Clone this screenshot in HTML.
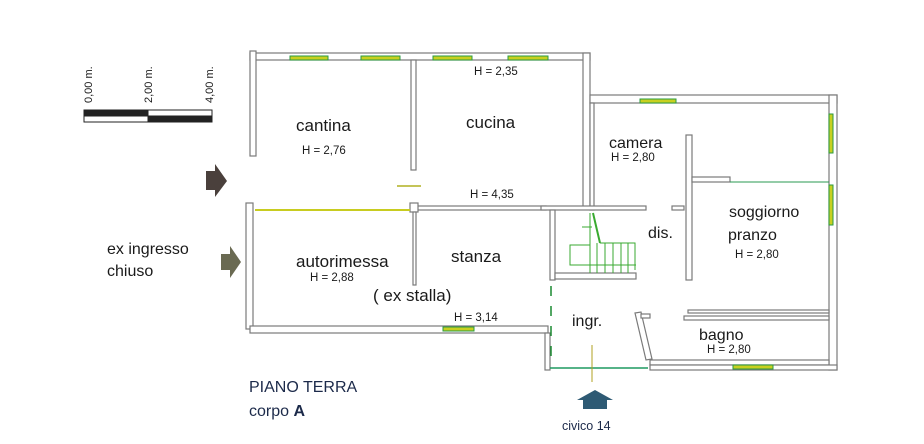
<!DOCTYPE html>
<html><head><meta charset="utf-8"><style>
html,body{margin:0;padding:0;background:#fff;}
svg{display:block;font-family:"Liberation Sans",Arial,sans-serif;}
.w{fill:#fff;stroke:#7a7a7a;stroke-width:1.2;}
.t{fill:#1a1a1a;}
</style></head><body>
<svg width="924" height="444" viewBox="0 0 924 444">
<!-- scale bar -->
<rect x="84" y="110" width="64" height="6" fill="#222" stroke="#222"/>
<rect x="84" y="116" width="64" height="6" fill="#fff" stroke="#222"/>
<rect x="148" y="110" width="64" height="6" fill="#fff" stroke="#222"/>
<rect x="148" y="116" width="64" height="6" fill="#222" stroke="#222"/>
<text transform="translate(92,103) rotate(-90)" font-size="11" class="t">0,00 m.</text>
<text transform="translate(152,103) rotate(-90)" font-size="11" class="t">2,00 m.</text>
<text transform="translate(213,103) rotate(-90)" font-size="11" class="t">4,00 m.</text>
<!-- arrows -->
<polygon points="206,171 215,171 215,164 227,181 215,197 215,190 206,190" fill="#4a403c"/>
<polygon points="221,254 230,254 230,246 241,262 230,278 230,270 221,270" fill="#6a6a52"/>
<polygon points="583,409 583,400 577,400 595,390 613,400 607,400 607,409" fill="#2e5a74"/>
<!-- walls -->
<rect class="w" x="250" y="53" width="340" height="7"/>
<rect class="w" x="250" y="51" width="6" height="105"/>
<rect class="w" x="411" y="60" width="5" height="110"/>
<rect class="w" x="583" y="53" width="7" height="155"/>
<rect class="w" x="590" y="95" width="247" height="8"/>
<rect class="w" x="829" y="95" width="8" height="275"/>
<rect class="w" x="590" y="103" width="4" height="107"/>
<rect class="w" x="416" y="206" width="130" height="4"/>
<rect class="w" x="410" y="203" width="8" height="9"/>
<line x1="255" y1="210" x2="410" y2="210" stroke="#c8cc20" stroke-width="2"/>
<rect class="w" x="246" y="203" width="7" height="126"/>
<rect class="w" x="413" y="212" width="3" height="73"/>
<rect class="w" x="250" y="326" width="298" height="7"/>
<rect class="w" x="541" y="206" width="105" height="4"/>
<rect class="w" x="672" y="206" width="12" height="4"/>
<rect class="w" x="550" y="210" width="5" height="70"/>
<rect class="w" x="555" y="273" width="81" height="6"/>
<rect class="w" x="686" y="135" width="6" height="145"/>
<rect class="w" x="692" y="177" width="38" height="5"/>
<line x1="730" y1="182" x2="829" y2="182" stroke="#2a9a50" stroke-width="1"/>
<rect class="w" x="688" y="310" width="141" height="3"/>
<rect class="w" x="684" y="316" width="145" height="4"/>
<polygon class="w" points="635,313 641,312 652,359 646,360"/>
<rect class="w" x="641" y="314" width="9" height="4"/>
<rect class="w" x="650" y="360" width="179" height="5"/>
<rect class="w" x="545" y="333" width="5" height="37"/>
<line x1="550" y1="368" x2="648" y2="368" stroke="#1f9a60" stroke-width="1.5"/>
<rect class="w" x="650" y="365" width="187" height="5"/>
<line x1="551" y1="286" x2="551" y2="364" stroke="#1a8a30" stroke-width="1.5" stroke-dasharray="10,10"/>
<line x1="592" y1="345" x2="592" y2="382" stroke="#b0a020" stroke-width="1"/>
<!-- windows -->
<g fill="#c8d020" stroke="#2a9a40" stroke-width="1">
<rect x="290" y="56" width="38" height="4"/><rect x="361" y="56" width="39" height="4"/>
<rect x="433" y="56" width="39" height="4"/><rect x="508" y="56" width="40" height="4"/>
<rect x="443" y="327" width="31" height="4"/><rect x="640" y="99" width="36" height="4"/>
<rect x="829" y="114" width="4" height="39"/><rect x="829" y="185" width="4" height="40"/>
<rect x="733" y="365" width="40" height="4"/>
</g>
<line x1="397" y1="186" x2="421" y2="186" stroke="#b0b020" stroke-width="1.5"/>
<!-- stair -->
<g stroke="#3aaa30" stroke-width="1" fill="none">
<polyline points="590,245 570,245 570,265 636,265"/>
<line x1="593" y1="213" x2="600" y2="243" stroke-width="2"/>
<polyline points="600,243 635,243 635,270"/>
<line x1="590" y1="213" x2="590" y2="273"/><line x1="597" y1="243" x2="597" y2="273"/>
<line x1="605" y1="243" x2="605" y2="273"/><line x1="613" y1="243" x2="613" y2="273"/>
<line x1="621" y1="243" x2="621" y2="273"/><line x1="628" y1="243" x2="628" y2="273"/>
<line x1="582" y1="227" x2="592" y2="227"/>
</g>
<!-- labels -->
<g class="t">
<text x="296" y="131" font-size="17">cantina</text>
<text x="302" y="154" font-size="11.5">H = 2,76</text>
<text x="466" y="128" font-size="17">cucina</text>
<text x="474" y="75" font-size="11.5">H = 2,35</text>
<text x="470" y="198" font-size="11.5">H = 4,35</text>
<text x="296" y="267" font-size="17">autorimessa</text>
<text x="310" y="281" font-size="11.5">H = 2,88</text>
<text x="451" y="262" font-size="17">stanza</text>
<text x="373" y="301" font-size="17">( ex stalla)</text>
<text x="454" y="321" font-size="11.5">H = 3,14</text>
<text x="609" y="148" font-size="16">camera</text>
<text x="611" y="161" font-size="11.5">H = 2,80</text>
<text x="648" y="238" font-size="16">dis.</text>
<text x="729" y="217" font-size="16">soggiorno</text>
<text x="728" y="240" font-size="16">pranzo</text>
<text x="735" y="258" font-size="11.5">H = 2,80</text>
<text x="572" y="326" font-size="16">ingr.</text>
<text x="699" y="340" font-size="16">bagno</text>
<text x="707" y="353" font-size="11.5">H = 2,80</text>
<text x="107" y="254" font-size="16">ex ingresso</text>
<text x="107" y="276" font-size="16">chiuso</text>
</g>
<text x="249" y="392" font-size="16" fill="#1c2a4a">PIANO  TERRA</text>
<text x="249" y="416" font-size="16" fill="#1c2a4a">corpo <tspan font-weight="bold">A</tspan></text>
<text x="562" y="430" font-size="12.5" fill="#1c2a4a">civico 14</text>
</svg>
</body></html>
